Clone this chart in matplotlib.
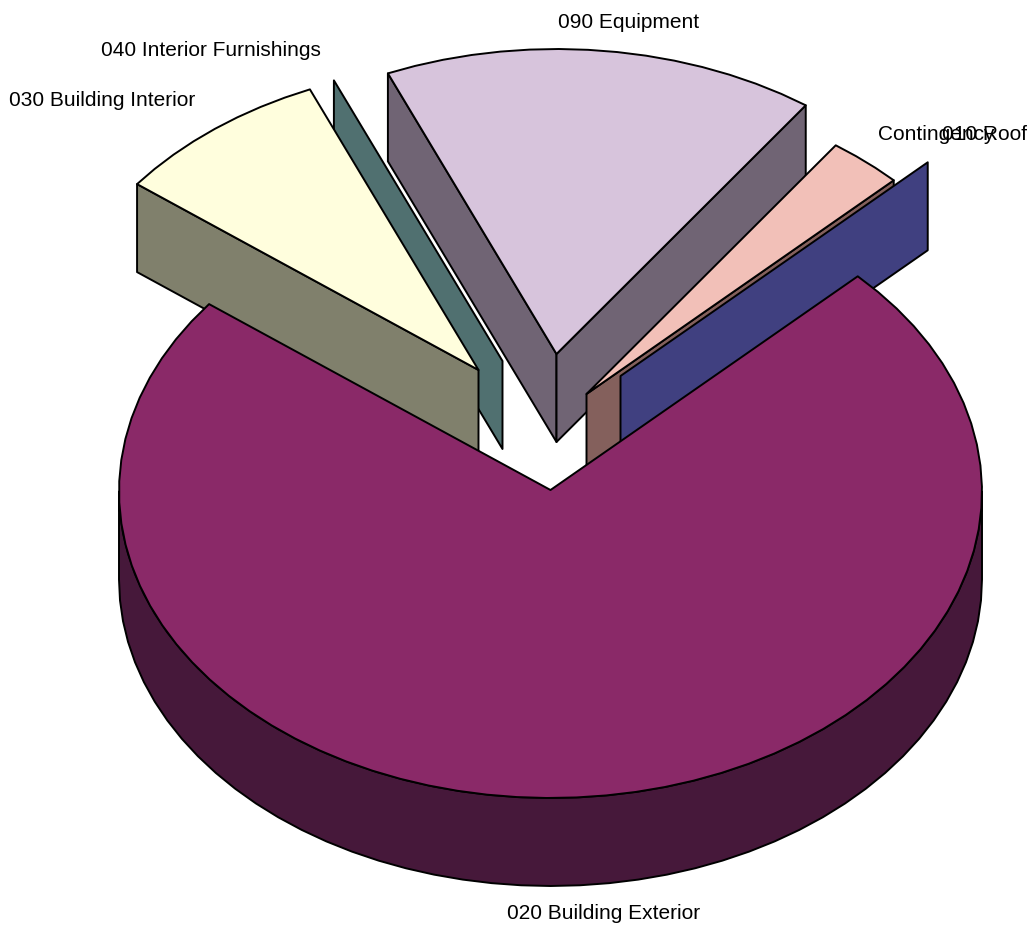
import numpy as np
import matplotlib
matplotlib.use('Agg')
import matplotlib.pyplot as plt
from matplotlib.patches import Polygon

# cost share of each division, percent of total, clockwise from the first slice
divisions = ['020 Building Exterior', '030 Building Interior', '040 Interior Furnishings',
             '090 Equipment', 'Contingency', '010 Roof']
shares = [72.86, 8.14, 0.0, 16.19, 2.81, 0.0]

topColors = ['#8a2968', '#fffedd', '#63918f', '#d7c4dc', '#f2c0b8', '#50509a']
sideColors = ['#46183a', '#80806c', '#507070', '#706474', '#84605c', '#404080']

# how far each slice is pulled out of the pie, in pixels
explodeX = [0, -72, -48, 6, 36, 70]
explodeY = [0, -120, -129, -136, -96, -114]

# slices are painted back to front
drawOrder = [3, 4, 5, 2, 1, 0]

labelX = [604, 102, 211, 628.5, 936, 985]
labelY = [914, 101, 50, 22, 134, 134]

startAngle = 45.4
centerX = 550.5
centerY = 491
radiusX = 431.5
radiusY = 306.5
rimDrop = 1.5  # the rim ellipse sits slightly below the apex point
depth = 88


def rimPoints(a, b, x0, y0):
    t = np.radians(np.linspace(a, b, max(2, int(abs(b - a) / 4) + 2)))
    return np.column_stack((x0 + radiusX * np.sin(t), y0 + rimDrop - radiusY * np.cos(t)))


def addFace(ax, pts, color):
    ax.add_patch(Polygon(pts, closed=True, facecolor=color, edgecolor='black',
                         linewidth=1.4, joinstyle='round'))


def addCutFace(ax, t, x0, y0, color):
    apex = np.array([[x0, y0]])
    edge = rimPoints(t, t, x0, y0)[:1]
    addFace(ax, np.vstack((apex, edge, edge + [0, depth], apex + [0, depth])), color)


def drawSlice(ax, a, b, dx, dy, top, side):
    x0 = centerX + dx
    y0 = centerY + dy

    # flat cut faces, only the ones that turn towards the viewer
    if np.sin(np.radians(a)) < 0:
        addCutFace(ax, a, x0, y0, side)
    if np.sin(np.radians(b)) > 0:
        addCutFace(ax, b, x0, y0, side)

    # curved outer wall on the front half
    lo = max(a, 90)
    hi = min(b, 270)
    if hi > lo:
        rim = rimPoints(lo, hi, x0, y0)
        addFace(ax, np.vstack((rim, rim[::-1] + [0, depth])), side)

    addFace(ax, np.vstack(([[x0, y0]], rimPoints(a, b, x0, y0))), top)


fig = plt.figure(figsize=(10.34, 9.28), dpi=100)
ax = fig.add_axes([0, 0, 1, 1])
ax.set_xlim(0, 1034)
ax.set_ylim(928, 0)
ax.axis('off')

degrees = np.array(shares) * 3.6
ends = startAngle + np.cumsum(degrees)
starts = ends - degrees

for i in drawOrder:
    if degrees[i] == 0:
        # a zero share leaves just one upright cut face
        addCutFace(ax, starts[i], centerX + explodeX[i], centerY + explodeY[i], sideColors[i])
    else:
        drawSlice(ax, starts[i], ends[i], explodeX[i], explodeY[i], topColors[i], sideColors[i])

for name, x, y in zip(divisions, labelX, labelY):
    ax.text(x, y, name, ha='center', va='center', fontsize=15,
            family='Liberation Sans', color='black')

fig.savefig('out.png', dpi=100)
plt.close(fig)
